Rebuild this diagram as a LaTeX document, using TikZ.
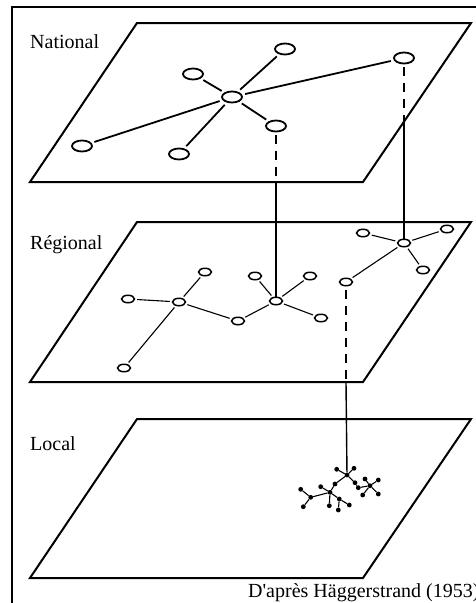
\documentclass[tikz,border=0pt]{standalone}
\usepackage{fontspec}
\setmainfont{Liberation Serif}
\usetikzlibrary{shapes.geometric}
\begin{document}
\begin{tikzpicture}[x=1pt,y=-1pt,
  plane/.style={line width=2pt, line join=miter},
  natnode/.style={ellipse, draw, line width=1.8pt, minimum width=20pt, minimum height=11pt, inner sep=0pt},
  regnode/.style={ellipse, draw, line width=1.5pt, minimum width=13pt, minimum height=7.5pt, inner sep=0pt},
  locdot/.style={circle, fill, minimum size=4.8pt, inner sep=0pt},
  natlink/.style={line width=1.8pt, shorten <=3pt, shorten >=3pt},
  reglink/.style={line width=1.1pt, shorten <=2pt, shorten >=2pt},
  loclink/.style={line width=1.1pt},
  vlink/.style={line width=1.4pt},
  vdash/.style={line width=1.4pt, dash pattern=on 9pt off 7pt},
  lbl/.style={anchor=base west, font=\fontsize{20}{23}\selectfont, inner sep=0pt}
]
\useasboundingbox (0,0) rectangle (475,603);
% outer frame (cut by the page on the right and bottom)
\draw[line width=2pt] (12,7) rectangle (495,625);

% planes
\coordinate (nTL) at (137,23);  \coordinate (nTR) at (471,23);
\coordinate (nBR) at (363,182); \coordinate (nBL) at (30,182);
\coordinate (rTL) at (137,222); \coordinate (rTR) at (471,222);
\coordinate (rBR) at (363,382); \coordinate (rBL) at (30,382);
\coordinate (lTL) at (137,419); \coordinate (lTR) at (471,419);
\coordinate (lBR) at (363,578); \coordinate (lBL) at (30,578);
\draw[plane] (nTL) -- (nTR) -- (nBR) -- (nBL) -- cycle;
\draw[plane] (rTL) -- (rTR) -- (rBR) -- (rBL) -- cycle;
\draw[plane] (lTL) -- (lTR) -- (lBR) -- (lBL) -- cycle;

% labels
\node[lbl] (tN) at (30,48) {National};
\node[lbl] (tR) at (30,249) {Régional};
\node[lbl] (tL) at (30,450) {Local};
\node[lbl] (tS) at (248,597) {D\textquotesingle après Häggerstrand (1953)};

% national network
\node[natnode] (n0) at (232,97) {};
\node[natnode] (n1) at (285,49) {};
\node[natnode] (n2) at (193,74) {};
\node[natnode] (n3) at (404,58) {};
\node[natnode] (n4) at (276,126) {};
\node[natnode] (n5) at (82,146) {};
\node[natnode] (n6) at (179,154) {};
\foreach \t in {n1,n2,n3,n4,n5,n6} \draw[natlink] (n0) -- (\t);

% regional network
\node[regnode] (rA) at (179,302) {};
\node[regnode] (rA1) at (205,272) {};
\node[regnode] (rA2) at (128,299) {};
\node[regnode] (rA3) at (124,368) {};
\node[regnode] (rM) at (238,321) {};
\node[regnode] (rB) at (276,301) {};
\node[regnode] (rB1) at (255,276) {};
\node[regnode] (rB2) at (310,276) {};
\node[regnode] (rB3) at (321,318) {};
\node[regnode] (rC) at (404,243) {};
\node[regnode] (rC1) at (363,233) {};
\node[regnode] (rC2) at (447,229) {};
\node[regnode] (rC3) at (423,270) {};
\node[regnode] (rD) at (346,282) {};
\foreach \a/\b in {rA/rA1,rA/rA2,rA/rA3,rA/rM,rM/rB,rB/rB1,rB/rB2,rB/rB3,rC/rC1,rC/rC2,rC/rC3,rC/rD}
  \draw[reglink] (\a) -- (\b);

% local network
\node[locdot] (L1) at (347,475) {};
\node[locdot] (L1a) at (336.7,469.3) {};
\node[locdot] (L1b) at (354,468.3) {};
\node[locdot] (L1c) at (335,484) {};
\node[locdot] (L1d) at (355,482.7) {};
\node[locdot] (L2) at (330,492.3) {};
\node[locdot] (L2a) at (320.7,486.7) {};
\node[locdot] (L2b) at (329.3,505.7) {};
\node[locdot] (L2c) at (339.3,499) {};
\node[locdot] (L2c1) at (349.3,505) {};
\node[locdot] (L2c2) at (338.3,510) {};
\node[locdot] (L2d) at (310.7,497.3) {};
\node[locdot] (L2d1) at (300.7,489.3) {};
\node[locdot] (L2d2) at (303.3,506.7) {};
\node[locdot] (L3) at (370,485.7) {};
\node[locdot] (L3a) at (365,479) {};
\node[locdot] (L3b) at (378.3,480) {};
\node[locdot] (L3c) at (378.3,494) {};
\node[locdot] (L3d) at (362.7,495) {};
\node[locdot] (L3e) at (358.3,487.7) {};
\foreach \a/\b in {L1/L1a,L1/L1b,L1/L1c,L1c/L2,L1/L1d,L1d/L3e,L2/L2a,L2/L2b,L2/L2c,L2c/L2c1,L2c/L2c2,L2/L2d,L2d/L2d1,L2d/L2d2,L3/L3a,L3/L3b,L3/L3c,L3/L3d,L3/L3e}
  \draw[loclink] (\a) -- (\b);

% vertical connectors between levels
\coordinate (v1) at (276,182);
\coordinate (v2) at (404,121.6);
\coordinate (v3) at (346,382);
\draw[vdash, shorten <=3pt] (n4.south) -- (v1);
\draw[vlink] (v1) -- (rB.north);
\draw[vdash, shorten <=3pt] (n3.south) -- (v2);
\draw[vlink] (v2) -- (rC.north);
\draw[vdash, shorten <=3pt] (rD.south) -- (v3);
\draw[vlink] (v3) -- (L1);
\end{tikzpicture}
\end{document}
